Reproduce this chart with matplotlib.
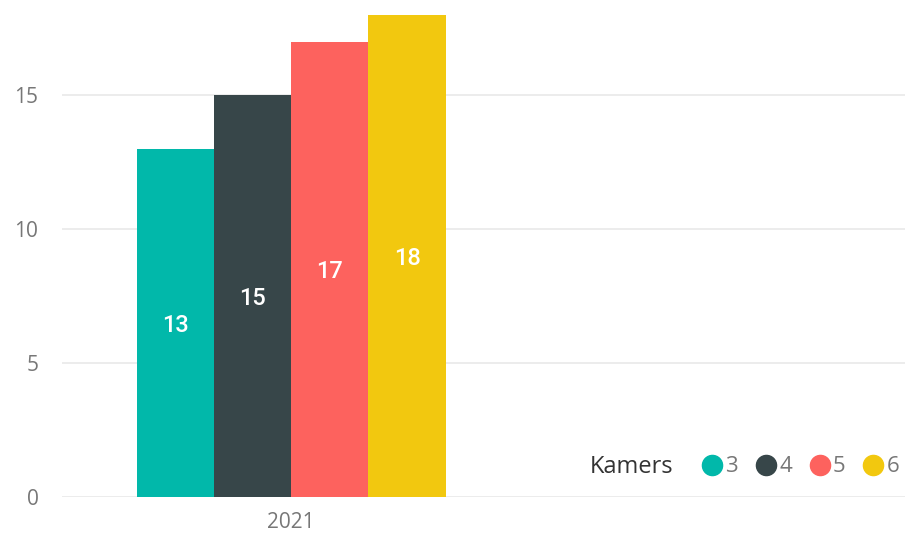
import matplotlib.pyplot as plt
from matplotlib.lines import Line2D

# Aantal woningen per aantal kamers, 2021
years = ["2021"]
rooms = ["3", "4", "5", "6"]
counts = [13, 15, 17, 18]
colors = ["#01B8AA", "#374649", "#FD625E", "#F2C80F"]

fig = plt.figure(figsize=(9.05, 5.38), dpi=100)
ax = fig.add_axes([0.0685, 0.0762, 0.9315, 0.9238])

bar_w = 1.0
n = len(rooms)
for i, (room, val, col) in enumerate(zip(rooms, counts, colors)):
    x = (i - (n - 1) / 2) * bar_w
    ax.bar(x, val, width=bar_w, color=col, zorder=3)
    ax.text(x, val / 2, str(val), ha="center", va="center_baseline",
            color="white", fontsize=17, family="Roboto", fontweight="medium",
            zorder=4)

ax.set_xlim(-2.97, 7.95)
ax.set_ylim(0, 18.55)
ax.set_yticks([0, 5, 10, 15])
ax.set_xticks([0])
ax.set_xticklabels(years)
ax.grid(axis="y", color="#E9E9E9", linewidth=1.2, zorder=0)
for s in ax.spines.values():
    s.set_visible(False)
ax.tick_params(axis="both", length=0, labelcolor="#777777", labelsize=15)
ax.tick_params(axis="y", pad=17)
ax.tick_params(axis="x", pad=11)
for lbl in ax.get_xticklabels() + ax.get_yticklabels():
    lbl.set_family("Open Sans")

# legend with title on the left
handles = [Line2D([], [], marker="o", linestyle="", markersize=14.5,
                  markerfacecolor=c, markeredgecolor=c) for c in colors]
fig.text(590 / 905, 1 - 467 / 538, "Kamers", ha="left", va="center",
         fontsize=17, color="#333333", family="Open Sans")
leg = fig.legend(handles, rooms, ncol=4, loc="center left",
                 bbox_to_anchor=(702 / 905, 1 - 467 / 538), frameon=False,
                 handlelength=0.9, handletextpad=0.15, columnspacing=0.8,
                 borderpad=0, borderaxespad=0,
                 prop={"family": "Open Sans", "size": 16})
for t in leg.get_texts():
    t.set_color("#777777")

fig.savefig("out.png", dpi=100)
